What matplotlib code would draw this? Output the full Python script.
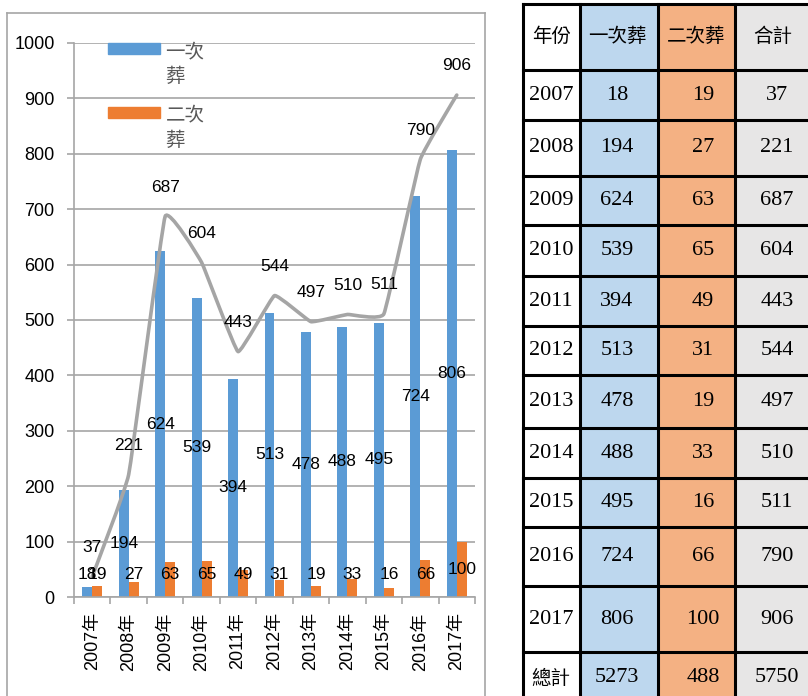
import matplotlib
matplotlib.use("Agg")
import matplotlib.pyplot as plt
from matplotlib.patches import Rectangle, PathPatch
from matplotlib.path import Path
from matplotlib.lines import Line2D

# data
years = [2007, 2008, 2009, 2010, 2011, 2012, 2013, 2014, 2015, 2016, 2017]
first = [18, 194, 624, 539, 394, 513, 478, 488, 495, 724, 806]
second = [19, 27, 63, 65, 49, 31, 19, 33, 16, 66, 100]
totals = [37, 221, 687, 604, 443, 544, 497, 510, 511, 790, 906]
year_labels = [f"{y}年" for y in years]
series_names = ["一次\n葬", "二次\n葬"]
table_header = ["年份", "一次葬", "二次葬", "合計"]
sum_label = "總計"
sum_row = [5273, 488, 5750]

BLUE = "#5b9bd5"
ORANGE = "#ed7d31"
LINE = "#a5a5a5"
GRID = "#a6a6a6"
SANS = ["Liberation Sans", "Noto Sans CJK TC"]
SERIF = ["Liberation Serif", "Noto Sans CJK TC"]

W, H = 808, 696
fig = plt.figure(figsize=(W / 100, H / 100), dpi=100)

# overlay axes in pixel units for the frame and the table
ov = fig.add_axes([0, 0, 1, 1])
ov.set_xlim(0, W)
ov.set_ylim(H, 0)
ov.axis("off")
ov.set_zorder(0)

# chart frame
for xs, ys in [([7, 7], [13, 710]), ([7, 485], [13, 13]), ([485, 485], [13, 710])]:
    ov.add_line(Line2D(xs, ys, color=GRID, lw=1.2))

# ---- chart ----
ax = fig.add_axes([74 / W, 1 - 597 / H, (475 - 74) / W, (597 - 43) / H])
ax.set_zorder(1)
ax.patch.set_alpha(0)

x = list(range(len(years)))
bw = 0.274
ax.bar([i - bw / 2 for i in x], first, width=bw, color=BLUE, zorder=2)
ax.bar([i + bw / 2 for i in x], second, width=bw, color=ORANGE, zorder=2)


def smooth_path(xs, ys, k=22):
    # lightly smoothed line: Catmull-Rom style segments as cubic Beziers
    n = len(xs)
    verts = [(xs[0], ys[0])]
    codes = [Path.MOVETO]
    for i in range(n - 1):
        x0, y0 = (xs[i - 1], ys[i - 1]) if i > 0 else (xs[i], ys[i])
        x3, y3 = (xs[i + 2], ys[i + 2]) if i + 2 < n else (xs[i + 1], ys[i + 1])
        c1 = (xs[i] + (xs[i + 1] - x0) / k, ys[i] + (ys[i + 1] - y0) / k)
        c2 = (xs[i + 1] - (x3 - xs[i]) / k, ys[i + 1] - (y3 - ys[i]) / k)
        verts += [c1, c2, (xs[i + 1], ys[i + 1])]
        codes += [Path.CURVE4] * 3
    return Path(verts, codes)


ax.add_patch(PathPatch(smooth_path(x, totals), facecolor="none", edgecolor=LINE,
                       lw=2.6, zorder=3, capstyle="round", joinstyle="round"))

# data labels
for i in x:
    ax.text(i - bw / 2, max(first[i] / 2, 40), str(first[i]), ha="center", va="center",
            fontsize=12.5, family=SANS, zorder=4)
    ax.text(i + bw / 2, max(second[i] / 2, 40), str(second[i]), ha="center", va="center",
            fontsize=12.5, family=SANS, zorder=4)
    ax.annotate(str(totals[i]), (i, totals[i]), xytext=(0, 21), textcoords="offset points",
                ha="center", va="center", fontsize=12.5, family=SANS, zorder=4)

ax.set_xlim(-0.5, len(years) - 0.5)
ax.set_ylim(0, 1000)
ax.set_yticks(range(0, 1001, 100))
ax.grid(axis="y", color=GRID, lw=1.2, zorder=0)
ax.set_axisbelow(True)
ax.set_xticks(x)
ax.set_xticklabels(year_labels, rotation=90, family=SANS, fontsize=13)
ax.set_xticks([i - 0.5 for i in range(len(years) + 1)], minor=True)
ax.tick_params(axis="x", which="major", length=0, pad=11)
ax.tick_params(axis="x", which="minor", length=5, color=GRID, width=1.2)
ax.tick_params(axis="y", length=5, color=GRID, width=1.2, pad=9, labelsize=13)
for lab in ax.get_yticklabels():
    lab.set_family(SANS)
for s in ["top", "right"]:
    ax.spines[s].set_visible(False)
for s in ["left", "bottom"]:
    ax.spines[s].set_color(GRID)
    ax.spines[s].set_linewidth(1.2)

# legend drawn in axes fraction
for (y0, y1, tc), col, name in zip([(0.980, 1.0, 0.962), (0.865, 0.885, 0.847)],
                                   [BLUE, ORANGE], series_names):
    ax.add_patch(Rectangle((0.085, y0), 0.13, y1 - y0, transform=ax.transAxes,
                           color=col, clip_on=False, zorder=4))
    ax.text(0.228, tc, name, transform=ax.transAxes, ha="left", va="center",
            fontsize=14, color="#595959", family=["Noto Sans CJK TC"],
            linespacing=1.25, zorder=4)

# ---- table ----
cols = [523, 580, 658, 735, 812]
rows = [4, 70, 120, 176, 225, 276, 326, 375, 428, 478, 527, 586, 652, 704]
fills = ["white", "#bdd7ee", "#f4b183", "#e7e6e6"]
data_x = [551, 617, 703, 777]
head_x = [552, 617, 696, 773]

for c in range(4):
    ov.add_patch(Rectangle((cols[c], rows[0]), cols[c + 1] - cols[c], rows[-1] - rows[0],
                           facecolor=fills[c], edgecolor="none"))
for cx in cols:
    ov.add_line(Line2D([cx, cx], [rows[0], rows[-1]], color="black", lw=2.2))
for ry in rows:
    ov.add_line(Line2D([cols[0], cols[-1]], [ry, ry], color="black", lw=2.2))

for c, name in enumerate(table_header):
    ov.text(head_x[c], (rows[0] + rows[1]) / 2, name, ha="center", va="center",
            fontsize=14, family=["Noto Sans CJK TC"])

body = [[str(y), str(a), str(b), str(t)] for y, a, b, t in zip(years, first, second, totals)]
body.append([sum_label] + [str(v) for v in sum_row])
for r, vals in enumerate(body):
    yc = (rows[r + 1] + rows[r + 2]) / 2
    for c, v in enumerate(vals):
        if v == sum_label:
            ov.text(data_x[c], yc, v, ha="center", va="center", fontsize=14,
                    family=["Noto Sans CJK TC"])
        else:
            ov.text(data_x[c], yc, v, ha="center", va="center", fontsize=16, family=SERIF)

fig.savefig("out.png", dpi=100)
